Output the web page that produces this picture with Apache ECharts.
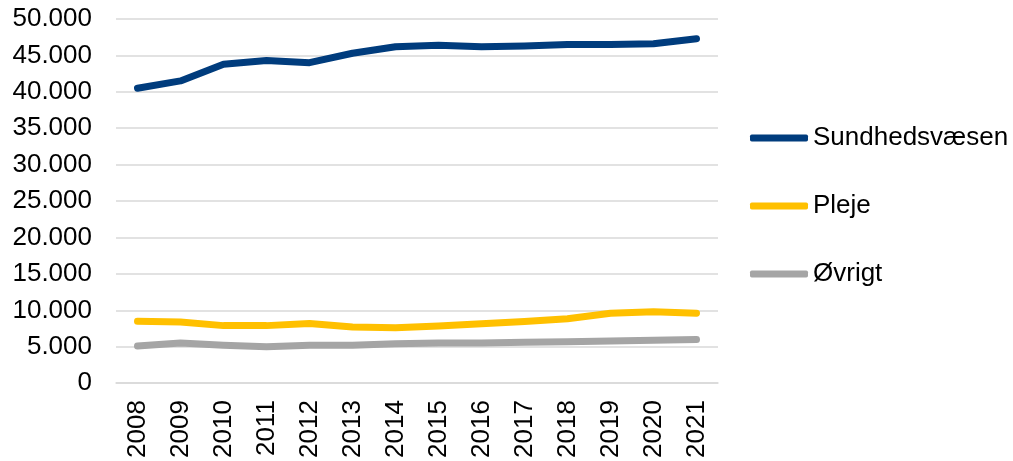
<!DOCTYPE html>
<html>
<head>
<meta charset="utf-8">
<script src="https://cdn.jsdelivr.net/npm/echarts@6/dist/echarts.min.js"></script>
<style>
html,body{margin:0;padding:0;background:#fff;}
#chart{width:1013px;height:461px;}
</style>
</head>
<body>
<div id="chart"></div>
<script>
var years = ['2008','2009','2010','2011','2012','2013','2014','2015','2016','2017','2018','2019','2020','2021'];
var sundhedsvaesen = [40500, 41500, 43800, 44300, 44000, 45300, 46200, 46400, 46200, 46300, 46500, 46500, 46600, 47300];
var pleje = [8500, 8400, 7900, 7900, 8200, 7700, 7600, 7850, 8150, 8450, 8850, 9600, 9800, 9600];
var oevrigt = [5100, 5500, 5200, 5000, 5200, 5200, 5400, 5500, 5500, 5600, 5700, 5800, 5900, 6000];
var seriesNames = ['Sundhedsvæsen', 'Pleje', 'Øvrigt'];
var colors = ['#003C7D', '#FFC000', '#A5A5A5'];

function fmt(v) {
  return String(v).replace(/\B(?=(\d{3})+(?!\d))/g, '.');
}

var chart = echarts.init(document.getElementById('chart'), null, {renderer: 'canvas'});
var font = 'Liberation Sans, Arial, sans-serif';

function mkSeries(name, data, color) {
  return {
    name: name,
    type: 'line',
    data: data,
    symbol: 'none',
    smooth: false,
    lineStyle: {width: 7, color: color, cap: 'round', join: 'round'},
    itemStyle: {color: color},
    emphasis: {disabled: true}
  };
}

chart.setOption({
  animation: false,
  color: colors,
  grid: {left: 116, right: 295, top: 19, bottom: 77, containLabel: false},
  legend: {
    orient: 'vertical',
    left: 745,
    top: 120,
    itemWidth: 58,
    itemHeight: 7,
    itemGap: 42,
    icon: 'roundRect',
    textStyle: {fontFamily: font, fontSize: 26, color: '#000'},
    data: seriesNames
  },
  xAxis: {
    type: 'category',
    data: years,
    boundaryGap: true,
    axisLine: {show: true, lineStyle: {color: '#D9D9D9', width: 1.5}},
    axisTick: {show: false},
    axisLabel: {rotate: 90, margin: 17, fontFamily: font, fontSize: 26, color: '#000'}
  },
  yAxis: {
    type: 'value',
    min: 0,
    max: 50000,
    interval: 5000,
    axisLine: {show: false},
    axisTick: {show: false},
    splitLine: {lineStyle: {color: '#D9D9D9', width: 1.5}},
    axisLabel: {margin: 24, fontFamily: font, fontSize: 26, color: '#000', formatter: function (v) { return fmt(v); }}
  },
  series: [
    mkSeries(seriesNames[0], sundhedsvaesen, colors[0]),
    mkSeries(seriesNames[1], pleje, colors[1]),
    mkSeries(seriesNames[2], oevrigt, colors[2])
  ]
});
</script>
</body>
</html>
